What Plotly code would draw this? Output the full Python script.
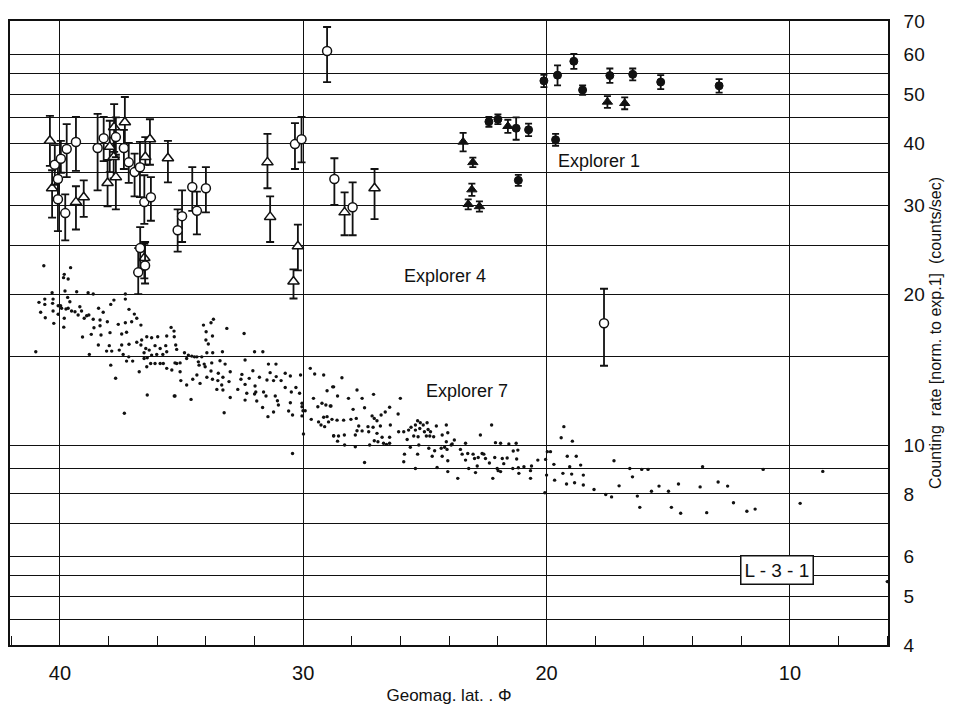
import numpy as np
import plotly.graph_objects as go

# ---------------- Explorer 7 (single dots) ----------------
e7_lat = [
    40.66, 39.56, 39.82, 39.66, 39.85, 40.32, 39.79, 39.31, 38.84, 38.63, 37.31, 40.86, 40.62, 40.62,
    40.28, 40.30, 40.07, 39.97, 39.93, 39.68, 39.59, 39.75, 39.66, 39.52, 39.38, 39.18, 39.11, 38.90,
    39.00, 39.25, 40.79, 40.60, 40.28, 40.07, 39.82, 40.25, 39.84, 38.81, 38.63, 38.35, 38.41, 38.22,
    37.91, 37.78, 37.31, 37.16, 36.94, 36.84, 36.67, 37.05, 37.31, 37.60, 38.05, 38.35, 38.60, 39.07,
    38.71, 38.31, 37.94, 37.46, 37.26, 38.42, 37.97, 38.08, 37.87, 37.56, 37.46, 37.16, 37.40, 37.17,
    40.99, 38.79, 37.91, 37.71, 37.26, 37.01, 36.74, 36.84, 36.64, 36.43, 36.23, 36.67, 36.47, 36.54,
    36.33, 36.09, 35.98, 35.88, 35.65, 35.61, 35.43, 35.31, 35.30, 35.24, 35.61, 35.77, 36.02, 36.23,
    36.41, 36.54, 36.27, 36.09, 35.88, 35.75, 35.61, 35.40, 35.20, 36.43, 36.41, 35.30, 37.35,
    34.10, 33.99, 33.79, 33.69, 33.73, 34.00, 33.90, 33.14, 32.43, 35.20, 34.88, 34.72, 34.58, 34.47,
    34.37, 34.17, 33.96, 33.72, 33.32, 32.00, 31.66, 35.27, 35.06, 34.79, 34.31, 34.28, 34.07, 34.03,
    33.76, 33.42, 33.21, 32.39, 35.06, 34.37, 35.03, 34.54, 34.24, 34.79, 33.96, 33.79, 33.49, 33.51,
    33.73, 33.30, 33.00, 33.05, 33.35, 33.55, 33.30, 35.27, 34.61, 33.00, 33.25, 32.69, 32.56, 32.52,
    32.22, 32.07, 32.39, 32.32, 32.39, 31.98, 31.95, 32.00, 31.91, 31.67, 31.80, 31.63, 31.53, 31.49,
    31.43, 31.36, 31.22, 31.12, 31.11, 31.15, 31.06, 31.02, 31.22, 31.45, 30.91, 30.74, 30.74, 30.53,
    30.49, 30.53, 30.60, 30.44, 30.30, 30.11, 30.15, 30.05, 30.05, 30.01, 30.05, 29.92, 29.99, 29.71,
    29.53, 29.16, 28.79, 29.02, 29.58, 29.40, 29.23, 29.07, 28.86, 29.67, 29.37, 29.27, 29.12, 29.16,
    29.02, 28.96, 28.75, 30.44,
    28.41, 28.75, 28.59, 28.14, 27.79, 27.58, 27.11, 26.01, 28.89, 27.95, 27.48, 26.45, 26.63, 26.80,
    26.10, 28.82, 28.61, 28.34, 28.04, 27.82, 27.17, 27.08, 26.97, 27.72, 27.34, 27.13, 26.83, 26.42,
    27.79, 27.58, 27.31, 27.86, 26.97, 26.76, 26.45, 28.75, 28.55, 28.31, 28.59, 27.08, 26.93, 26.70,
    26.58, 26.45, 27.27, 28.30, 27.86, 26.08, 25.87, 25.67, 25.57, 25.30, 25.19, 25.07, 24.91, 25.39,
    25.39, 25.21, 25.02, 24.87, 24.77, 25.46, 25.28, 24.94, 24.80, 25.73, 24.64, 24.53, 24.12, 24.06,
    24.29, 24.12, 23.92, 23.79, 23.88, 25.60, 25.25, 24.84, 24.60, 24.33, 24.19, 24.09, 25.84, 25.30,
    24.70, 24.29, 24.06, 25.87, 25.39, 24.50, 24.06, 23.65, 27.48, 23.54, 23.33, 23.47, 23.24, 23.02,
    22.96, 22.81, 22.65, 22.58, 22.72, 23.20, 22.92, 22.85, 23.33,
    22.26, 22.10, 21.89, 21.55, 21.25, 21.37, 21.18, 22.51, 22.35, 22.13, 21.82, 21.62, 21.76, 21.23,
    22.03, 21.99, 21.89, 21.39, 21.16, 20.93, 21.14, 22.21, 20.66, 20.62, 20.66, 20.36, 20.04, 19.97,
    19.84, 20.00, 20.07, 19.70, 19.67, 19.40, 19.29, 18.94, 19.15, 18.78, 19.05, 19.33, 18.97, 18.60,
    18.49, 19.18, 18.85, 18.49, 18.05, 17.57, 17.33, 17.23, 17.02, 16.58, 16.47, 16.09, 16.27, 16.17,
    15.83, 13.59, 11.10, 15.69, 15.38, 14.99, 14.58, 13.69, 12.95, 12.56, 14.87, 14.49, 13.42, 12.32,
    11.77, 11.43, 9.58, 8.65, 6.00,
]
e7_rate = [
    22.78, 22.58, 21.90, 21.44, 21.57, 20.13, 20.29, 20.22, 20.13, 20.01, 20.01, 19.26, 19.55, 19.08,
    19.55, 19.17, 18.96, 18.96, 18.74, 19.70, 19.31, 18.68, 18.74, 18.51, 18.45, 18.87, 18.51, 18.11,
    17.90, 18.17, 18.40, 17.95, 18.51, 18.23, 17.90, 17.49, 17.19, 18.17, 17.82, 17.76, 18.74, 18.40,
    19.08, 19.46, 19.55, 18.65, 18.25, 17.90, 17.35, 17.62, 17.54, 17.41, 17.62, 17.30, 17.14, 16.43,
    16.63, 16.58, 16.76, 16.66, 16.79, 15.84, 15.79, 15.40, 15.40, 15.47, 15.84, 15.89, 15.17, 15.00,
    15.35, 15.17, 14.44, 13.60, 14.71, 14.71, 14.01, 16.04, 16.20, 16.45, 16.37, 15.84, 15.59, 15.28,
    15.47, 15.79, 16.45, 15.59, 15.79, 16.50, 17.17, 16.88, 16.45, 15.84, 15.35, 15.17, 15.17, 15.12,
    14.93, 14.89, 14.55, 14.55, 14.55, 14.55, 14.23, 14.12, 14.55, 14.33, 12.59, 12.53, 11.58,
    17.35, 16.83, 17.54, 17.82, 16.50, 16.20, 15.91, 17.09, 16.70, 15.52, 15.28, 15.12, 15.05, 15.00,
    15.00, 15.00, 15.28, 15.28, 15.35, 15.35, 15.35, 14.59, 14.59, 14.89, 14.66, 14.44, 14.51, 14.33,
    14.59, 14.73, 14.51, 14.78, 14.01, 13.80, 13.45, 13.53, 13.28, 13.18, 13.66, 14.06, 13.91, 13.45,
    13.53, 13.66, 14.01, 13.39, 13.18, 12.92, 12.88, 12.53, 12.34, 12.45, 11.61, 12.92, 13.53, 13.84,
    13.59, 14.07, 13.22, 12.69, 12.30, 13.12, 12.77, 12.65, 12.25, 11.89, 13.66, 12.77, 12.53, 13.49,
    14.51, 13.95, 13.45, 14.51, 13.70, 12.53, 12.26, 12.03, 11.65, 11.40, 13.45, 13.91, 13.03, 13.74,
    12.77, 12.15, 11.70, 11.49, 13.03, 13.80, 12.69, 12.12, 11.93, 11.71, 11.44, 11.71, 10.53, 14.23,
    13.86, 13.80, 13.07, 12.84, 12.40, 11.93, 12.12, 12.03, 11.97, 11.26, 11.13, 10.97, 10.89, 11.37,
    11.40, 11.13, 10.45, 9.63,
    13.63, 13.07, 12.53, 12.40, 12.88, 12.40, 12.63, 12.40, 11.97, 11.79, 11.88, 11.90, 11.65, 11.49,
    11.54, 11.26, 11.22, 11.22, 11.26, 11.31, 11.44, 11.31, 11.19, 10.92, 10.89, 10.86, 10.92, 10.97,
    10.69, 10.68, 10.64, 10.48, 10.56, 10.37, 10.37, 10.43, 10.43, 10.48, 10.19, 10.21, 10.16, 10.09,
    10.04, 10.09, 10.01, 10.01, 9.93, 10.64, 10.64, 10.72, 10.86, 11.19, 11.09, 10.97, 11.09, 10.97,
    10.72, 10.80, 10.64, 10.75, 10.64, 10.43, 10.40, 10.43, 10.43, 10.27, 10.40, 10.92, 10.97, 10.59,
    10.48, 10.16, 10.01, 10.24, 10.06, 9.91, 10.01, 9.86, 9.75, 9.86, 9.91, 9.81, 9.60, 9.60,
    9.51, 9.51, 9.31, 9.27, 8.99, 9.03, 8.86, 8.59, 9.24, 9.81, 10.09, 9.60, 9.63, 9.60,
    9.41, 9.45, 9.63, 9.60, 10.48, 8.99, 8.82, 9.09, 9.34,
    10.97, 10.12, 10.09, 10.06, 10.09, 9.74, 9.78, 9.41, 9.22, 9.45, 9.41, 9.43, 9.19, 9.39,
    8.99, 8.90, 8.86, 8.99, 9.02, 9.06, 8.79, 8.59, 8.90, 9.09, 8.59, 9.34, 9.37, 9.71,
    9.71, 8.72, 8.04, 9.16, 8.52, 10.35, 10.89, 10.19, 9.51, 9.51, 9.06, 8.79, 8.76, 9.13,
    8.72, 8.37, 8.42, 8.33, 8.16, 7.98, 7.89, 9.31, 8.30, 8.99, 8.65, 8.95, 7.92, 7.52,
    8.95, 9.06, 8.95, 8.10, 8.29, 8.10, 8.37, 8.26, 8.45, 8.29, 7.52, 7.32, 7.34, 7.68,
    7.39, 7.46, 7.66, 8.87, 5.35,
]

# ---------------- Explorer 4, open triangles ----------------
e4t_lat = [40.41, 40.32, 39.34, 39.02, 38.04, 37.95, 37.77, 37.79, 37.70, 37.33,
           36.49, 36.30, 35.56, 36.53, 31.47, 31.36, 30.22, 30.40, 28.30, 27.07]
e4t_rate = [40.4, 32.5, 30.5, 31.2, 33.3, 39.3, 43.0, 37.5, 34.2, 44.0,
            37.5, 40.7, 37.3, 23.6, 36.6, 28.5, 24.9, 21.2, 29.1, 32.5]
e4t_lo = [36.0, 28.4, 26.9, 28.5, 29.9, 35.0, 38.4, 34.0, 29.5, 39.1,
          36.2, 36.2, 33.4, 21.5, 32.5, 25.4, 22.3, 19.6, 26.2, 28.2]
e4t_hi = [45.3, 35.3, 32.8, 33.7, 37.0, 44.3, 47.8, 41.0, 37.9, 49.4,
          41.1, 44.6, 40.4, 25.2, 41.7, 31.3, 27.5, 22.4, 31.9, 35.5]

# ---------------- Explorer 4, open circles ----------------
e4c_lat = [40.21, 39.96, 40.08, 40.08, 39.78, 39.72, 39.34, 38.45, 38.20, 37.70,
           37.37, 37.17, 36.93, 36.71, 36.53, 36.26, 36.70, 36.50, 36.78, 35.16,
           34.98, 34.56, 34.37, 34.00, 30.34, 30.07, 29.02, 28.72, 27.97, 17.64]
e4c_rate = [36.2, 37.2, 33.9, 30.9, 29.0, 38.9, 40.2, 39.1, 40.9, 41.1,
            39.1, 36.6, 35.0, 35.8, 30.5, 31.2, 24.7, 22.8, 22.1, 26.8,
            28.6, 32.7, 29.3, 32.5, 39.8, 40.7, 61.0, 33.9, 29.8, 17.5]
e4c_lo = [33.0, 34.9, 31.0, 26.7, 25.6, 34.2, 35.2, 32.2, 36.8, 37.5,
          35.5, 33.3, 31.3, 31.2, 27.6, 28.0, 22.3, 21.0, 20.0, 24.3,
          25.4, 29.3, 26.3, 29.1, 35.5, 36.6, 52.9, 30.1, 26.2, 14.4]
e4c_hi = [39.6, 40.4, 36.5, 33.5, 31.6, 43.6, 45.1, 45.7, 45.1, 45.0,
          42.5, 40.0, 38.1, 40.2, 34.5, 34.2, 27.2, 25.4, 24.7, 29.5,
          32.2, 35.8, 32.0, 35.8, 43.8, 45.1, 68.1, 37.3, 33.4, 20.5]

# ---------------- Explorer 1, filled circles ----------------
e1c_lat = [20.11, 19.55, 18.88, 18.52, 17.40, 16.46, 15.31, 12.91, 19.63,
           22.37, 22.00, 21.25, 20.74, 21.16]
e1c_rate = [53.2, 54.6, 58.2, 51.0, 54.5, 54.8, 52.9, 52.0, 40.6,
            44.1, 44.6, 42.8, 42.5, 33.7]
e1c_err = [1.5, 2.5, 2.0, 1.1, 1.8, 1.5, 1.7, 1.6, 1.1,
           1.0, 1.0, 2.2, 1.2, 0.85]

# ---------------- Explorer 1, filled triangles ----------------
e1t_lat = [23.43, 23.03, 23.07, 23.22, 22.76, 21.59, 17.50, 16.79]
e1t_rate = [40.2, 36.6, 32.3, 30.2, 29.9, 43.2, 48.3, 48.0]
e1t_err = [1.7, 0.8, 0.9, 0.7, 0.7, 1.3, 1.3, 1.3]

# axis decorations
y_tick_vals = [4, 5, 6, 8, 10, 20, 30, 40, 50, 60, 70]
y_grid_extra = [4.5, 5.5, 7, 9, 15, 25, 35, 45, 55]
x_tick_vals = [40, 30, 20, 10]

FONT = "Liberation Sans"
INK = "#111111"


def bounds_err(y, lo, hi):
    y = np.asarray(y)
    return dict(type="data", symmetric=False,
                array=(np.asarray(hi) - y).tolist(),
                arrayminus=(y - np.asarray(lo)).tolist(),
                color=INK, thickness=1.8, width=4)


def sym_err(e):
    return dict(type="data", array=list(e), color=INK, thickness=1.8, width=3.5)


fig = go.Figure()

fig.add_trace(go.Scatter(
    x=e7_lat, y=e7_rate, mode="markers", name="Explorer 7",
    marker=dict(size=3.4, color=INK, line=dict(width=0)),
))

fig.add_trace(go.Scatter(
    x=e4t_lat, y=e4t_rate, mode="markers", name="Explorer 4",
    error_y=bounds_err(e4t_rate, e4t_lo, e4t_hi),
    marker=dict(symbol="triangle-up", size=10, color="white",
                line=dict(color=INK, width=1.5)),
))

fig.add_trace(go.Scatter(
    x=e4c_lat, y=e4c_rate, mode="markers", name="Explorer 4",
    error_y=bounds_err(e4c_rate, e4c_lo, e4c_hi),
    marker=dict(symbol="circle", size=9, color="white",
                line=dict(color=INK, width=1.5)),
))

fig.add_trace(go.Scatter(
    x=e1c_lat, y=e1c_rate, mode="markers", name="Explorer 1",
    error_y=sym_err(e1c_err),
    marker=dict(symbol="circle", size=8, color=INK, line=dict(color=INK, width=1)),
))

fig.add_trace(go.Scatter(
    x=e1t_lat, y=e1t_rate, mode="markers", name="Explorer 1",
    error_y=sym_err(e1t_err),
    marker=dict(symbol="triangle-up", size=9, color=INK, line=dict(color=INK, width=1)),
))

label_font = dict(family=FONT, size=18, color=INK)
fig.add_annotation(x=17.86, y=np.log10(36.8), text="Explorer 1", showarrow=False, font=label_font)
fig.add_annotation(x=24.16, y=np.log10(21.7), text="Explorer 4", showarrow=False, font=label_font)
fig.add_annotation(x=23.29, y=np.log10(12.8), text="Explorer 7", showarrow=False, font=label_font)
fig.add_annotation(x=10.53, y=np.log10(5.64), text="L - 3 - 1", showarrow=False,
                   font=dict(family=FONT, size=19, color=INK),
                   bordercolor=INK, borderwidth=1.5, borderpad=3, bgcolor="white")

fig.update_layout(
    width=959, height=706,
    margin=dict(l=10, r=71, t=21, b=61),
    paper_bgcolor="white", plot_bgcolor="white",
    showlegend=False,
    font=dict(family=FONT, color=INK),
    xaxis=dict(
        range=[42.05, 5.97], automargin=False,
        tickmode="array", tickvals=x_tick_vals, ticktext=[str(v) for v in x_tick_vals],
        showgrid=True, gridcolor=INK, gridwidth=1.3,
        ticks="", tickfont=dict(family=FONT, size=20, color=INK),
        ticklabelstandoff=9,
        showline=True, linecolor=INK, linewidth=1.6, mirror=True,
        zeroline=False,
        minor=dict(dtick=2, tick0=0, ticks="inside", ticklen=9, tickcolor=INK,
                   tickwidth=1.2, showgrid=False),
        title=dict(text="Geomag. lat. . Φ", font=dict(family=FONT, size=17, color=INK),
                   standoff=6),
    ),
    yaxis=dict(
        type="log", side="right", automargin=False,
        range=[np.log10(4), np.log10(70)],
        tickmode="array", tickvals=y_tick_vals, ticktext=[str(v) for v in y_tick_vals],
        showgrid=True, gridcolor=INK, gridwidth=1.2,
        ticks="inside", ticklen=6, tickcolor=INK,
        tickfont=dict(family=FONT, size=19, color=INK),
        ticklabelstandoff=10,
        showline=True, linecolor=INK, linewidth=1.6, mirror=True,
        zeroline=False,
        minor=dict(tickmode="array", tickvals=y_grid_extra, showgrid=True,
                   gridcolor=INK, gridwidth=1.2, ticks="inside", ticklen=6, tickcolor=INK),
        title=dict(text="Counting  rate [norm. to exp.1]  (counts/sec)",
                   font=dict(family=FONT, size=16, color=INK), standoff=6),
    ),
)

fig.write_html("out.html")
